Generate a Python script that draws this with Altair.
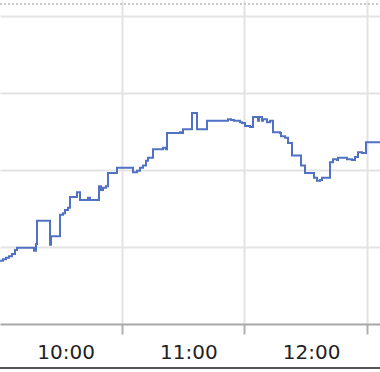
import altair as alt
import pandas as pd

times = [
    "10:00:38", "10:02:06", "10:03:34", "10:05:02", "10:06:29", "10:07:58", "10:08:56",
    "10:17:14", "10:18:13", "10:18:43", "10:25:04", "10:25:33", "10:29:56", "10:31:25",
    "10:32:23", "10:33:51", "10:34:50", "10:38:15", "10:39:43", "10:43:37", "10:44:36",
    "10:48:59", "10:49:58", "10:50:57", "10:52:25", "10:53:23", "10:57:47", "11:05:36",
    "11:07:34", "11:09:01", "11:10:29", "11:11:57", "11:12:56", "11:15:22", "11:20:16",
    "11:21:43", "11:22:13", "11:28:34", "11:29:32", "11:30:02", "11:34:26", "11:36:52",
    "11:41:45", "11:52:01", "11:53:29", "11:54:56", "11:57:52", "11:58:51", "12:00:19",
    "12:02:46", "12:04:14", "12:06:40", "12:07:10", "12:08:37", "12:09:07", "12:11:04",
    "12:12:32", "12:14:00", "12:17:25", "12:17:55", "12:19:52", "12:21:20", "12:23:17",
    "12:27:41", "12:29:38", "12:34:02", "12:35:29", "12:36:58", "12:37:56", "12:41:50",
    "12:43:18", "12:45:16", "12:45:45", "12:50:09", "12:52:35", "12:54:03", "12:55:31",
    "12:57:29", "12:59:26", "13:06:16",
]
values = [
    0.82, 0.84, 0.86, 0.88, 0.91, 0.96, 0.99,
    0.95, 1.04, 1.34, 1.03, 1.14, 1.42, 1.44,
    1.48, 1.51, 1.65, 1.71, 1.61, 1.64, 1.61,
    1.79, 1.74, 1.77, 1.79, 1.96, 2.03, 1.97,
    1.99, 2.03, 2.06, 2.12, 2.16, 2.27, 2.29,
    2.27, 2.48, 2.49, 2.48, 2.53, 2.74, 2.53,
    2.64, 2.66, 2.65, 2.64, 2.62, 2.61, 2.57,
    2.56, 2.69, 2.64, 2.69, 2.64, 2.66, 2.62,
    2.64, 2.49, 2.48, 2.44, 2.42, 2.35, 2.19,
    2.06, 1.96, 1.90, 1.86, 1.87, 1.90, 2.10,
    2.14, 2.13, 2.16, 2.14, 2.13, 2.17, 2.23,
    2.22, 2.36, 2.36,
]
tick_hours = [11, 12, 13]
grid_values = [1, 2, 3, 4]

df = pd.DataFrame({"t": ["2024-01-01T" + t for t in times], "v": values})

def dt(h, m=0, s=0):
    return alt.DateTime(year=2024, month=1, date=1, hours=h, minutes=m, seconds=s)

line = alt.Chart(df).mark_line(
    interpolate="step-after", color="#5172c2", strokeWidth=2, clip=True
).encode(
    x=alt.X(
        "t:T",
        scale=alt.Scale(domain=[dt(10, 0, 38), dt(13, 6, 16)]),
        axis=alt.Axis(
            values=[dt(h) for h in tick_hours],
            labelExpr="timeFormat(datum.value - 3600000, '%H:%M')",
            labelOffset=-56,
            labelFont="DejaVu Sans",
            labelFontSize=20,
            labelColor="#222222",
            labelPadding=8,
            labelFlush=False,
            labelOverlap=False,
            labelBound=False,
            tickSize=10,
            tickColor="#b0b0b0",
            tickWidth=2,
            domainColor="#a8a8a8",
            domainWidth=2,
            gridColor="#e3e3e3",
            gridWidth=2,
            title=None,
        ),
    ),
    y=alt.Y(
        "v:Q",
        scale=alt.Scale(domain=[0, 4.208], nice=False, zero=False),
        axis=alt.Axis(
            values=grid_values,
            labels=False,
            ticks=False,
            domain=False,
            title=None,
            gridColor="#e3e3e3",
            gridWidth=2,
        ),
    ),
)

top_dots = alt.Chart(df).mark_rule(
    color="#c8c8c8", strokeWidth=2, strokeDash=[2, 2]
).encode(x=alt.value(0), x2=alt.value(380), y=alt.value(4))

bottom_line = alt.Chart(df).mark_rule(
    color="#555555", strokeWidth=2
).encode(x=alt.value(0), x2=alt.value(380), y=alt.value(368))

chart = alt.layer(line, top_dots, bottom_line).properties(
    width=380,
    height=324,
    padding={"left": 0, "top": 0, "right": 0, "bottom": 48},
    autosize=alt.AutoSizeParams(type="none"),
    background="white",
).configure_view(stroke=None)

chart.save("out.html", embed_options={"renderer": "svg", "actions": False})
